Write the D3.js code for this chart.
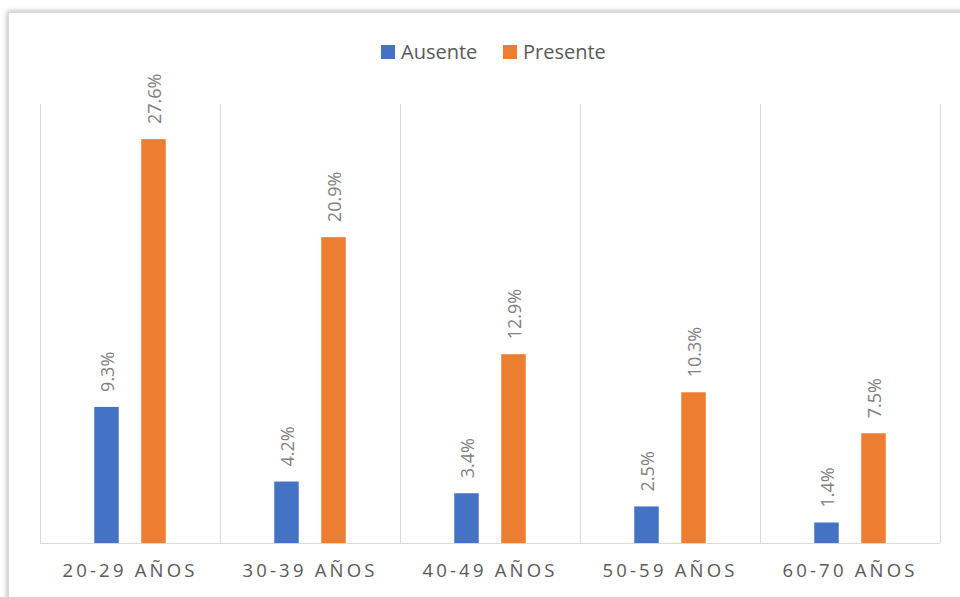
<!DOCTYPE html>
<html>
<head>
<meta charset="utf-8">
<script src="https://cdn.jsdelivr.net/npm/d3@7"></script>
<style>
  html, body { margin: 0; padding: 0; background: #ffffff; }
  svg { display: block; }
</style>
</head>
<body>
<svg id="chart" width="960" height="597"></svg>
<script>
// Age groups and the share of each group (percent)
const categories = ["20-29 AÑOS", "30-39 AÑOS", "40-49 AÑOS", "50-59 AÑOS", "60-70 AÑOS"];
const seriesNames = ["Ausente", "Presente"];
const ausente = [9.3, 4.2, 3.4, 2.5, 1.4];
const presente = [27.6, 20.9, 12.9, 10.3, 7.5];
const seriesColors = ["#4472c4", "#ed7d31"];
const yMax = 30;

const values = [ausente, presente];

const svg = d3.select("#chart");
const W = 960, H = 597;
const plot = { left: 40, right: 940, top: 104, bottom: 543 };

// Drop shadow for the chart frame
const defs = svg.append("defs");
const f = defs.append("filter").attr("id", "frameShadow")
  .attr("x", "-5%").attr("y", "-5%").attr("width", "110%").attr("height", "110%");
f.append("feDropShadow").attr("dx", -1).attr("dy", -1).attr("stdDeviation", 2.5)
  .attr("flood-color", "#000").attr("flood-opacity", 0.28);

svg.append("rect").attr("width", W).attr("height", H).attr("fill", "#ffffff");
svg.append("rect")
  .attr("x", 8.5).attr("y", 12.5).attr("width", 1000).attr("height", 700)
  .attr("fill", "#ffffff").attr("stroke", "#d9d9d9").attr("stroke-width", 1)
  .attr("filter", "url(#frameShadow)");

const x0 = d3.scaleBand().domain(categories).range([plot.left, plot.right]).padding(0);
const groupW = 71.5;
const x1 = d3.scaleBand().domain(seriesNames)
  .range([(x0.bandwidth() - groupW) / 2, (x0.bandwidth() + groupW) / 2])
  .paddingInner(0.4787).paddingOuter(0);
const y = d3.scaleLinear().domain([0, yMax]).range([plot.bottom, plot.top]);

// Vertical separators between categories
const bounds = categories.map(c => x0(c)).concat([x0(categories[categories.length - 1]) + x0.bandwidth()]);
svg.append("g").selectAll("line").data(bounds).join("line")
  .attr("x1", d => Math.round(d) + 0.5).attr("x2", d => Math.round(d) + 0.5)
  .attr("y1", y(yMax)).attr("y2", y(0))
  .attr("stroke", "#d9d9d9").attr("stroke-width", 1);

// Bars
const groups = svg.append("g").selectAll("g").data(categories).join("g")
  .attr("transform", c => `translate(${x0(c)},0)`);

groups.selectAll("rect")
  .data((c, i) => seriesNames.map((s, j) => ({ s, j, v: values[j][i] })))
  .join("rect")
  .attr("x", d => x1(d.s))
  .attr("width", x1.bandwidth())
  .attr("y", d => y(d.v))
  .attr("height", d => y(0) - y(d.v))
  .attr("fill", d => seriesColors[d.j]);

// Rotated value labels
groups.selectAll("text.val")
  .data((c, i) => seriesNames.map((s, j) => ({ s, j, v: values[j][i] })))
  .join("text")
  .attr("class", "val")
  .attr("transform", d => `translate(${x1(d.s) + x1.bandwidth() / 2 + 1},${y(d.v) - 15}) rotate(-90)`)
  .attr("dy", "0.35em")
  .attr("text-anchor", "start")
  .attr("font-family", "'Open Sans', sans-serif")
  .attr("font-size", 18)
  .attr("fill", "#808080")
  .text(d => d.v.toFixed(1) + "%");

// Baseline
svg.append("line")
  .attr("x1", plot.left).attr("x2", plot.right)
  .attr("y1", y(0) + 0.5).attr("y2", y(0) + 0.5)
  .attr("stroke", "#d9d9d9").attr("stroke-width", 1);

// Category axis
const xAxis = d3.axisBottom(x0).tickSize(0).tickPadding(0);
const gx = svg.append("g").attr("transform", `translate(0,${y(0)})`).call(xAxis);
gx.select(".domain").remove();
gx.selectAll("text")
  .attr("y", 34)
  .attr("dy", 0)
  .attr("font-family", "'Open Sans', sans-serif")
  .attr("font-size", 18.5)
  .attr("letter-spacing", "3.2px")
  .attr("fill", "#595959");

// Legend
const legend = svg.append("g").attr("font-family", "'Open Sans', sans-serif").attr("font-size", 20);
const legendItems = [{ x: 381, name: seriesNames[0], c: seriesColors[0] }, { x: 503, name: seriesNames[1], c: seriesColors[1] }];
legendItems.forEach(it => {
  legend.append("rect").attr("x", it.x).attr("y", 45).attr("width", 14).attr("height", 14).attr("fill", it.c);
  legend.append("text").attr("x", it.x + 20).attr("y", 59).attr("fill", "#595959").text(it.name);
});
</script>
</body>
</html>
